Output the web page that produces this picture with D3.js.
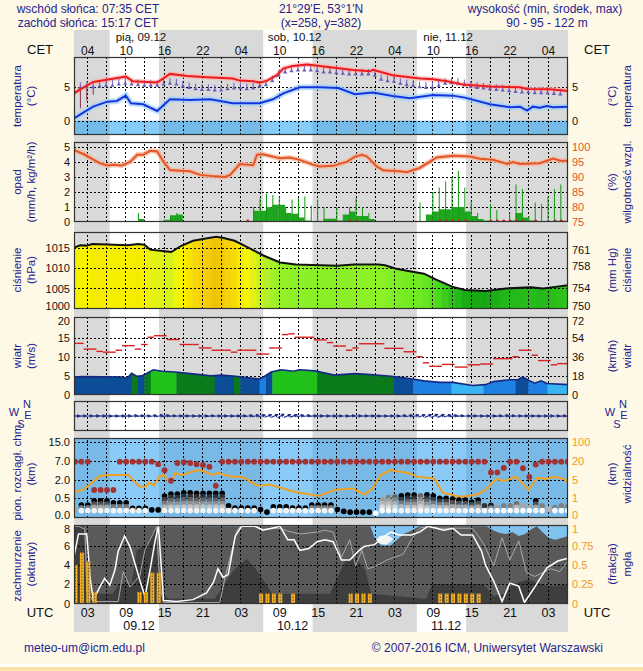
<!DOCTYPE html>
<html><head><meta charset="utf-8">
<script src="https://cdn.jsdelivr.net/npm/d3@7/dist/d3.min.js"></script>
<style>html,body{margin:0;padding:0;background:#fef8e6;}svg{display:block}</style>
</head><body>
<svg id="chart" width="643" height="671"></svg>
<script>
// ================= DATA =================
const tickHours=[3,9,15,21,27,33,39,45,51,57,63,69,75];
const cetLabels=["04","10","16","22","04","10","16","22","04","10","16","22","04"];
const utcLabels=["03","09","15","21","03","09","15","21","03","09","15","21","03"];
const dayNoon=[11,35,59];
const dayLabelsTop=["pią, 09.12","sob, 10.12","nie, 11.12"];
const dayLabelsBottom=["09.12","10.12","11.12"];
const daylight=[[6.58,14.28],[30.58,38.28],[54.58,62.28]];

// temperature (hour, °C)
const tempRed=[[1,4.1],[2.7,5.1],[4,5.8],[6.6,6.2],[9.1,6.6],[10.2,5.9],[14,5.7],[16,7.0],[18.7,6.7],[21.8,6.5],[25.8,6.3],[26.9,6.0],[29,5.9],[30,5.7],[31.2,6.0],[32.7,6.8],[33.7,7.8],[35.2,8.2],[37.4,8.4],[39.4,8.2],[44.6,7.6],[47.3,7.4],[47.7,7.6],[50.8,6.8],[55.1,6.3],[57.1,6.2],[59.3,5.9],[61.8,5.4],[66,5.1],[70.7,5.0],[71.8,4.75],[75.4,4.7],[78.2,4.45]];
const tempBlue=[[1,0.35],[2.7,1.35],[4,2.1],[6.2,2.85],[7.7,2.95],[9.1,3.75],[9.9,2.6],[11.8,2.45],[14,1.45],[16,3.2],[19.1,3.1],[22.3,3.2],[25.8,2.6],[30,2.6],[32.1,3.2],[33.7,4.1],[36.3,5.0],[39.4,5.0],[42.3,4.9],[44.9,3.95],[47.7,4.2],[50.8,3.7],[53.5,3.35],[57.1,3.85],[60.2,3.75],[62.1,3.45],[66,2.45],[69.1,2.0],[70.7,2.1],[71.8,1.5],[72.7,2.1],[73.8,1.95],[74.9,2.2],[75.9,2.0],[78.2,2.1]];
const tempPurple=[[2,5.0],[3,5.1],[4,5.1],[5,5.2],[6,5.3],[7,5.3],[8,5.5],[9,5.6],[10,5.5],[11,5.4],[12,5.3],[13,5.3],[14,5.3],[15,5.5],[16,5.6],[17,5.5],[18,5.2],[19,5.0],[20,4.8],[21,4.7],[22,4.7],[23,4.6],[24,4.6],[25,4.8],[26,4.9],[27,4.9],[28,4.8],[29,4.9],[30,5.2],[31,5.4],[32,6.0],[33,6.8],[34,7.3],[35,7.5],[36,7.6],[37,7.6],[38,7.6],[39,7.5],[40,7.3],[41,7.3],[42,7.2],[43,7.1],[44,7.0],[45,7.0],[46,7.0],[47,7.0],[48,6.8],[49,6.2],[50,6.0],[51,5.9],[52,5.6],[53,5.4],[54,5.3],[55,5.1],[56,5.0],[57,5.0],[58,5.3],[59,5.6],[60,5.7],[61,5.6],[62,5.4],[63,5.2],[64,5.0],[65,4.9],[66,4.8],[67,4.7],[68,4.6],[69,4.5],[70,4.4],[71,4.3],[72,4.3],[73,4.2],[74,4.2],[75,4.2],[76,4.1],[77,4.0]];
const tempPurpleLow=[[2,1.85],[3,3.0],[4,3.9]];

// precipitation (hour, mm/h) and humidity (hour, %)
const precip=[[11,0.2],[14,0.05],[15,0.15],[16,0.45],[17,0.5],[28,0.03],[29,0.75],[30,0.75],[31,0.98],[32,1.15],[33,1.15],[34,0.6],[35,0.55],[36,0.3],[37,0.1],[38,0.05],[40,0.22],[41,0.22],[42,0.1],[43,0.5],[44,0.7],[45,0.4],[46,0.4],[47,0.2],[56,0.5],[57,0.7],[58,0.85],[59,0.85],[60,1.0],[61,1.0],[62,0.7],[63,0.4],[64,0.2],[65,0.1],[66,0.05],[67,0.05],[69,0.1],[70,0.6],[71,0.3],[72,0.1],[73,0.05],[76,0.08],[77,0.08]];
const precipMax=[[11,0.6],[16,0.4],[17,0.6],[29,1.0],[30,1.6],[31,1.9],[32,1.8],[33,1.7],[34,1.0],[35,1.5],[36,1.6],[37,1.7],[38,1.1],[39,1.5],[40,1.0],[42,1.0],[44,1.0],[45,1.6],[46,1.0],[47,0.6],[55,1.3],[57,2.0],[58,2.3],[59,2.7],[60,3.0],[61,3.4],[62,2.3],[63,1.4],[64,0.6],[66,1.2],[67,0.8],[69,0.6],[70,2.5],[71,2.2],[72,0.4],[73,1.3],[74,1.2],[75,1.7],[76,2.2],[77,2.5]];
const snowHours=[28,44,45,58,59,60,61,62,66,67,68,69,70,71,73,76,77];
const humidity=[[1,99],[2.7,97.4],[5,94.6],[6.2,93.8],[7.1,94.1],[8.5,93.8],[9.8,95.1],[10.9,97.4],[11.8,97.4],[12.9,98.7],[14,98.5],[15,95.1],[16,92.3],[17.6,92.1],[19.1,91.9],[20.7,90.7],[23,90.2],[24.6,90.0],[25.4,90.7],[26.9,94.3],[29,93.9],[29.6,97.4],[30.5,97.6],[33.2,96.2],[34.7,96.5],[36.3,95.7],[38.3,94.1],[39.4,93.5],[41.5,93.7],[43.7,95.1],[44.9,96.8],[46,97.4],[46.8,96.8],[48.3,93.5],[49.3,92.2],[51.9,91.9],[53,91.6],[55,93],[57.7,96.5],[60.2,97.1],[62.9,96.8],[64.4,96.1],[66.5,95.7],[68.7,94.3],[69.6,95.0],[70.7,94.3],[73.8,94.6],[75.9,96.1],[77,95.4],[78.2,95.4]];

// pressure (hour, hPa)
const pressure=[[1,1015.2],[2,1015.8],[2.9,1015.7],[3.9,1016.1],[6.2,1016.0],[9.4,1015.8],[11,1016.1],[12,1015.9],[12.9,1014.7],[15.2,1014.3],[16.2,1014.1],[17.7,1015.6],[19.6,1016.9],[21.6,1017.5],[23.2,1017.9],[24.4,1017.6],[26.1,1016.9],[28,1015.4],[30.5,1013.3],[33.2,1011.5],[35.7,1011.0],[39.6,1010.8],[42.1,1010.7],[44.8,1011.0],[48.6,1011.0],[49.6,1010.8],[51.2,1010.0],[53,1009.4],[55.7,1008.7],[57.6,1007.2],[60.2,1005.4],[62.1,1004.6],[65.3,1004.4],[68.5,1005.0],[72.4,1005.3],[74.3,1005.0],[76.2,1005.4],[78.2,1005.8]];
const pressTicks=[1000,1005,1010,1015];
const mmHgTicks=[750,754,758,761];

// wind (hour, m/s), gusts hourly h=1..78, colour class segments, direction hourly
const windSpeed=[[1,4.7],[2.2,4.8],[8.6,4.7],[9.3,4.4],[10,5.7],[10.8,4.9],[11.6,5.0],[13.4,6.6],[14.8,6.2],[16.7,6.0],[19.2,5.6],[22.4,5.0],[24,5.2],[26.3,4.9],[28.9,4.4],[30.1,4.2],[30.8,4.9],[31.8,6.0],[33.4,6.6],[35.3,6.2],[36.3,6.6],[38.6,6.3],[41.7,5.2],[44.9,5.6],[46.8,5.4],[50.6,4.9],[53.1,4.4],[55.7,3.7],[58.2,3.3],[60.2,3.3],[63.3,2.5],[65.3,2.7],[66.6,3.5],[69.1,4.0],[70.4,4.0],[71.1,4.7],[72.1,3.8],[73,3.1],[74,3.7],[74.9,3.0],[78.2,2.7]];
const windGust=[13.5,13.5,12.0,12.0,11.4,11.2,11.2,11.7,12.9,12.9,12.0,13.2,15.1,15.5,15.5,14.5,14.5,13.2,13.2,13.2,12.3,12.3,11.7,11.7,11.7,11.2,11.7,11.7,11.7,10.7,10.7,12.3,12.3,15.8,16.0,15.1,15.1,15.1,14.4,14.4,13.7,12.8,12.8,11.7,12.3,13.4,13.4,13.4,13.4,12.2,12.2,12.2,11.3,11.3,10.0,8.4,7.5,7.5,8.0,8.0,7.3,7.3,7.9,7.9,8.1,8.1,9.5,9.5,9.5,10.0,11.7,11.7,10.4,9.0,9.0,7.9,8.2,8.2];
const windClassSeg=[[1,10,0],[10,11,1],[11,12,0],[12,13,1],[13,17,2],[17,23,1],[23,26,0],[26,27,1],[27,30,0],[30,31,3],[31,32,0],[32,39,2],[39,51,1],[51,54,0],[54,60,3],[60,65,4],[65,70,3],[70,72,0],[72,75,3],[75,78.2,4]];
const windClassColors=["#0c4d98","#0a7a1a","#20c21a","#1f80e4","#3ab4f4"];
const windDir=[270,268,266,268,270,272,270,268,265,262,264,266,262,258,260,263,266,268,270,268,266,264,266,268,270,268,265,262,258,254,250,246,242,246,252,258,262,265,268,270,270,268,266,264,266,268,270,272,270,268,266,262,258,254,250,246,244,248,254,260,264,266,268,270,268,266,264,262,264,266,268,270,272,270,268,266,264,262];

// cloud base / vertical extent (km) hourly h=1..78, visibility (hour, km)
const cbHigh=[6.75,6.75,6.75,1.16,1.16,1.16,1.16,6.75,6.75,6.75,6.75,6.75,6.75,6.1,4.5,1.9,6.4,6.6,6.4,6.1,5.9,5.4,1.5,
6.75,6.75,6.75,6.75,6.75,6.75,6.75,6.75,6.75,6.75,6.75,6.75,6.75,6.75,6.75,6.75,6.75,6.75,6.75,6.75,6.75,
6.75,6.75,6.75,6.75,6.75,6.75,6.75,6.75,6.75,6.75,6.75,6.75,6.75,6.75,6.75,6.75,6.75,6.75,6.75,6.75,6.75,
3.9,3.9,5.1,6.75,6.75,5.0,2.7,6.0,6.75,6.75,6.75,6.75,6.75];
const cbTop=[0.19,0.32,0.32,0.43,0.43,0.43,0.38,0.38,0.38,0.23,0.23,0.23,0.19,0.19,0.68,0.84,0.84,0.94,0.94,0.9,0.9,0.9,0.9,0.9,0.3,0.24,0.24,0.24,0.24,0.2,0.13,0.27,0.27,0.27,0.24,0.24,0.24,0.32,0.32,0.32,0.32,0.2,0.15,0.13,0.13,0.13,0.13,0.1,0.45,0.55,0.6,0.7,0.76,0.76,0.7,0.78,0.7,0.5,0.5,0.48,0.45,0.45,0.4,0.45,0.3,0.31,0.25,0.3,0.3,0.35,0.3,0.25,0.43,0.3,0.2,0.25,0.3,0.28];
const cbDark=[0.35,1,1,1,1,1,1,1,1,1, 1,1,1,1,1,1,1,1,1,1, 1,1,1,1,1,1,1,1,1,1, 1,1,1,1,1,1,1,1,1,1, 1,1,1,1,1,1,1,0,0.4,0.5, 0.6,1,1,1,0.6,1,1,1,1,1, 1,1,1,1,0.8,0.9,0.4,0.5,0.5,0.55, 0.35,0.35,1,0.5,0.3,0.5,0.5,0.5];
const visibility=[[1,2.2],[2.5,2.9],[4,4.5],[5,7.8],[6.5,8.6],[9.6,8.6],[10.1,5.2],[11.2,3.5],[12.2,3.5],[12.7,4.3],[13.5,3.8],[14.3,7.2],[15,8.6],[15.6,4.9],[16.3,4.5],[16.8,10],[17.9,8.6],[19.4,11.2],[20.5,12.6],[21.5,11.2],[22.6,8.6],[23.6,10.4],[24.6,8.6],[25.7,7.2],[26.8,7.2],[27.8,6.0],[28.9,4.2],[30,3.6],[31.5,3.95],[35.4,2.4],[39.3,1.5],[41.8,2.8],[44.5,3.1],[46.4,1.8],[47.6,3.0],[48.9,8.6],[50.5,12.6],[53.4,10],[54.7,7.2],[57.3,5.9],[58.6,2.2],[61.2,1.3],[63.7,1.65],[65,2.5],[67,5.4],[68.3,4.7],[70.1,7.2],[72,2.8],[73.4,6.4],[74.7,5.5],[76.2,7.2],[77.8,5.0],[78.2,4.2]];
const cbTicks=[0,0.5,2,7,15];
const cbTickLabels=["0.0","0.5","2.0","7.0","15.0"];
const visTicks=[0,1,5,20,100];

// cloud cover (hour, oktas), fog fraction (hour, 0-1)
const cloudTotal=[[1,7.4],[1.8,8],[47.3,8],[48,6.8],[49,6.0],[50.5,6.0],[51.5,6.6],[52.5,7.2],[53.5,7.5],[55,8],[65.5,8],[66.5,7.6],[67.5,7.3],[68.5,7.2],[69.5,7.4],[70.5,7.0],[71.5,7.2],[72.5,7.7],[73.3,8],[74.2,7.4],[75.2,6.8],[76.2,6.6],[77.2,6.8],[78.2,7.0]];
const cloudLow=[[1,8],[2.5,8],[3.2,1],[7,1],[8,2],[10,2],[10.8,5.5],[12.5,6.2],[13.8,8],[14.5,1],[16,0.5],[23,0.5],[24.5,2],[26,3.5],[28,4.6],[29.5,3.5],[31,2],[32,1],[41,1],[42,2.5],[43.5,4.5],[45,4.8],[46.5,3.5],[47.5,1],[56,0.5],[57,2.0],[65,2.0],[66.5,0.8],[68.5,1],[69.5,2],[72,2.5],[75,1.8],[78.2,2]];
const cloudWhitePatch=[[48.2,6.6,6.6],[48.8,6.2,7.0],[49.8,6.1,7.1],[50.5,6.4,6.9],[50.9,6.7,6.7]];
const cloudWhiteLine=[[1,4.85],[1.7,7.2],[3,7.2],[3.5,2.8],[4,0.36],[5.06,1.74],[5.8,2.6],[6.6,1.9],[7.4,3.5],[7.9,5.4],[8.9,7.0],[9.75,5.9],[10.5,4.2],[11.3,2.4],[12.1,0.7],[12.9,3.5],[13.7,6.6],[14.2,8],[15,0.3],[17,0.2],[19.6,0.4],[21.7,1.1],[22.8,2.2],[23.5,3.6],[24.3,2.7],[25.1,3.0],[25.6,4.8],[26.2,7.0],[27.2,8],[29.3,8],[30.5,7.6],[31.9,7.8],[33.2,8],[34.4,6.6],[35.4,6.6],[36.3,5.5],[37.7,5.7],[39,6.4],[40.2,6.6],[41.5,6.4],[42.8,4.5],[44.1,4.5],[45.4,5.4],[46.3,5.9],[47.95,6.1],[49.2,6.8],[50.5,7.4],[51.8,7.1],[53.7,7.1],[55,7.4],[56.3,8],[57.6,7.8],[58.8,7.6],[60.2,7.8],[61.5,7.1],[63.3,7.1],[64.7,5.4],[65.3,4.0],[66.6,2.3],[67.9,0.2],[69.1,2.1],[70.5,1.8],[71.4,0.1],[73,1.7],[74.9,3.7],[76.6,4.4],[78.2,4.7]];
const cloudGrayLine=[[1,8],[1.7,8],[2.7,7.7],[3,1.3],[4,0.2],[7.9,0.2],[8.7,3.3],[9.75,1.7],[11.3,2.9],[12.1,5.6],[12.9,6.6],[13.9,8],[14.4,2.0],[14.95,0.1],[23.8,0.1],[24.6,2.7],[25.4,4.8],[26.5,7.6],[27,8],[29.3,8],[30.5,7.7],[33.2,7.8],[34.4,7.5],[36.3,7.2],[39,7.4],[40.2,7.6],[41.5,7.4],[42.8,4.8],[44.1,6.6],[45,3.9],[46,5.5],[46.9,3.6],[47.95,3.8],[49.9,4.5],[52.4,5.1],[53.7,6.6],[55,7.8],[56.3,8],[58,7.8],[61,7.8],[63.3,7.8],[64.7,6.5],[65.3,5.8],[66.6,3.9],[67.9,6.8],[69.1,4.5],[70.5,6.5],[71.7,3.2],[73,2.8],[74.3,3.2],[75.5,3.6],[76.9,3.3],[78.2,4.4]];
const fog=[[1,0.5],[2,0.66],[3,0.54],[4,0.15],[11,0.15],[12,0.15],[13,0.4],[14,0.4],[30,0.13],[31,0.13],[32,0.13],[33,0.13],[35,0.13],[44,0.13],[45,0.13],[46,0.13],[47,0.13],[58,0.13],[59,0.13],[60,0.13],[61,0.13],[62,0.13],[63,0.13],[64,0.13]];

// ================= DRAWING =================
const FONT="'Liberation Sans', Arial, Helvetica, sans-serif";
const NAVY="#24248f";
const svg=d3.select("#chart").attr("font-family",FONT);
svg.append("rect").attr("width",643).attr("height",671).attr("fill","#fef8e6");
const X0=74,X1=568;
const x=d3.scaleLinear().domain([1,78.2]).range([X0,X1]);
const BAND_TOP=30,BAND_BOT=632;
const defs=svg.append("defs");

function interp(pts,h){
  if(h<=pts[0][0]) return pts[0][1];
  for(let i=1;i<pts.length;i++){ if(h<=pts[i][0]){const a=pts[i-1],b=pts[i];return a[1]+(b[1]-a[1])*(h-a[0])/(b[0]-a[0]);} }
  return pts[pts.length-1][1];
}
function txt(g,xx,yy,s,o={}){
  const t=g.append("text").attr("x",xx).attr("y",yy).text(s)
    .attr("font-size",o.size||12).attr("fill",o.fill||NAVY)
    .attr("text-anchor",o.anchor||"start");
  if(o.rot){t.attr("transform",`rotate(${o.rot},${xx},${yy})`).attr("dy","0.35em").attr("text-anchor","middle");}
  return t;
}
function clip(id,top,bot){
  defs.append("clipPath").attr("id",id).append("rect").attr("x",X0).attr("y",top).attr("width",X1-X0).attr("height",bot-top);
  return "url(#"+id+")";
}

// day/night bands
svg.append("rect").attr("x",X0).attr("y",BAND_TOP).attr("width",X1-X0).attr("height",BAND_BOT-BAND_TOP).attr("fill","#d9d9d9");
svg.append("g").selectAll("rect").data(daylight).join("rect")
  .attr("x",d=>x(d[0])).attr("width",d=>x(d[1])-x(d[0])).attr("y",BAND_TOP).attr("height",BAND_BOT-BAND_TOP).attr("fill","#ffffff");

// header texts
const hd=svg.append("g");
txt(hd,88,13,"wschód słońca: 07:35 CET",{anchor:"middle"});
txt(hd,88,27,"zachód słońca: 15:17 CET",{anchor:"middle"});
txt(hd,321,13,"21°29'E, 53°1'N",{anchor:"middle"});
txt(hd,321,27,"(x=258,  y=382)",{anchor:"middle"});
txt(hd,545,13,"wysokość (min, środek, max)",{anchor:"middle"});
txt(hd,547,27,"90 - 95 - 122 m",{anchor:"middle"});
dayNoon.forEach((h,i)=>txt(hd,x(h)+3,40.5,dayLabelsTop[i],{anchor:"middle",fill:"#111",size:11.5}));
tickHours.forEach((h,i)=>txt(hd,x(h)+1,55,cetLabels[i],{anchor:"middle",fill:"#111",size:12}));
txt(hd,40,54,"CET",{anchor:"middle",fill:"#111",size:13});
txt(hd,597,54,"CET",{anchor:"middle",fill:"#111",size:13});

// generic panel helpers
const gridHours=d3.range(3,78.2,3);
function grid(g,top,bot,y,vals){
  g.append("g").attr("transform",`translate(0,${bot})`)
    .call(d3.axisBottom(x).tickValues(gridHours).tickSize(-(bot-top)).tickFormat(""))
    .call(a=>{a.select(".domain").remove();a.selectAll("line").attr("stroke","#000").attr("stroke-dasharray","2,2").attr("shape-rendering","crispEdges");});
  if(y&&vals){
    g.append("g").attr("transform",`translate(${X0},0)`)
      .call(d3.axisLeft(y).tickValues(vals).tickSize(-(X1-X0)).tickFormat(""))
      .call(a=>{a.select(".domain").remove();a.selectAll("line").attr("stroke","#000").attr("stroke-dasharray","2,2").attr("shape-rendering","crispEdges");});
  }
}
function frame(top,bot){
  svg.append("rect").attr("x",X0+0.5).attr("y",top+0.5).attr("width",X1-X0-1).attr("height",bot-top-1)
    .attr("fill","none").attr("stroke","#333").attr("stroke-width",1.2);
}
// nudge: {value: dy} to keep edge labels of neighbouring panels apart
function axisSide(gen,tx,y,vals,fmt,color,nudge){
  svg.append("g").attr("transform",`translate(${tx},0)`)
    .call(gen(y).tickValues(vals).tickSize(0).tickPadding(0).tickFormat(fmt))
    .call(a=>{a.select(".domain").remove();
      a.selectAll("text").attr("font-size",11).attr("font-family",FONT).attr("fill",color||"#111");
      if(nudge) a.selectAll(".tick").each(function(d){ if(nudge[d]!==undefined) d3.select(this).select("text").attr("y",nudge[d]); });
    });
}
function leftAxis(y,vals,fmt,color,nudge){ axisSide(d3.axisLeft,X0-4,y,vals,fmt,color,nudge); }
function rightAxis(y,vals,fmt,color,nudge){ axisSide(d3.axisRight,X1+4,y,vals,fmt,color,nudge); }
function titles(cy,l1,l2,r1,r2){
  const s=11.5;
  txt(svg,17,cy,l1,{rot:-90,size:s}); txt(svg,31,cy,l2,{rot:-90,size:s});
  txt(svg,612,cy,r1,{rot:-90,size:s}); txt(svg,627,cy,r2,{rot:-90,size:s});
}

// ---------- temperature ----------
{
  const top=57,bot=135;
  const y=d3.scaleLinear().domain([-2.14,9.53]).range([bot,top]);
  const g=svg.append("g").attr("clip-path",clip("cT",top,bot));
  g.append("rect").attr("x",X0).attr("y",y(0)).attr("width",X1-X0).attr("height",bot-y(0)).attr("fill","#23a2f2").attr("opacity",0.55);
  grid(g,top,bot,y,[0,5]);
  const ln=d3.line().x(d=>x(d[0])).y(d=>y(d[1]));
  g.append("path").attr("d",ln(tempBlue)).attr("fill","none").attr("stroke","#9fd0fa").attr("stroke-width",6).attr("opacity",0.7);
  g.append("path").attr("d",ln(tempRed)).attr("fill","none").attr("stroke","#ffb0b0").attr("stroke-width",5).attr("opacity",0.7);
  const pc="#6a5fb8";
  g.selectAll(".pl").data(tempPurpleLow).join("line").attr("x1",d=>x(d[0])).attr("x2",d=>x(d[0]))
    .attr("y1",d=>y(interp(tempPurple,d[0]))).attr("y2",d=>y(d[1])).attr("stroke","#8a3050").attr("stroke-width",1);
  g.selectAll(".pv").data(tempPurple).join("line").attr("x1",d=>x(d[0])).attr("x2",d=>x(d[0]))
    .attr("y1",d=>y(d[1])).attr("y2",d=>y(d[1])-5).attr("stroke",pc).attr("stroke-width",1);
  g.selectAll(".pm").data(tempPurple).join("path").attr("transform",d=>`translate(${x(d[0])},${y(d[1])})`)
    .attr("d","M-2.2,1.6L2.2,1.6L0,-1.8Z").attr("fill",pc);
  g.append("path").attr("d",ln(tempBlue)).attr("fill","none").attr("stroke","#1434e0").attr("stroke-width",2);
  g.append("path").attr("d",ln(tempRed)).attr("fill","none").attr("stroke","#ec1c1c").attr("stroke-width",2);
  frame(top,bot);
  leftAxis(y,[0,5],d3.format("d"));
  rightAxis(y,[0,5],d3.format("d"));
  titles(96,"temperatura","(°C)","(°C)","temperatura");
}

// ---------- precipitation / humidity ----------
{
  const top=142,bot=222;
  const y=d3.scaleLinear().domain([0,5.33]).range([bot,top]);
  const yh=d3.scaleLinear().domain([75,101.65]).range([bot,top]);
  const g=svg.append("g").attr("clip-path",clip("cP",top,bot));
  grid(g,top,bot,y,[1,2,3,4,5]);
  g.selectAll(".pb").data(precip).join("rect").attr("x",d=>x(d[0])).attr("width",d=>x(d[0]+1)-x(d[0]))
    .attr("y",d=>y(d[1])).attr("height",d=>bot-y(d[1])).attr("fill","#1ea61e");
  g.selectAll(".pmx").data(precipMax).join("line").attr("x1",d=>x(d[0])+0.5).attr("x2",d=>x(d[0])+0.5)
    .attr("y1",d=>y(d[1])).attr("y2",bot).attr("stroke","#129a12").attr("stroke-width",1);
  g.selectAll(".sn").data(snowHours).join("circle").attr("cx",d=>x(d)+1).attr("cy",bot-1).attr("r",1.6).attr("fill","#d02020");
  const ln=d3.line().x(d=>x(d[0])).y(d=>yh(d[1]));
  g.append("path").attr("d",ln(humidity)).attr("fill","none").attr("stroke","#f6b69a").attr("stroke-width",5).attr("opacity",0.8);
  g.append("path").attr("d",ln(humidity)).attr("fill","none").attr("stroke","#e2562a").attr("stroke-width",2);
  frame(top,bot);
  leftAxis(y,[0,1,2,3,4,5],d3.format("d"));
  rightAxis(yh,[75,80,85,90,95,100],d3.format("d"),"#e2562a");
  titles(182,"opad","(mm/h, kg/m²/h)","(%)","wilgotność wzgl.");
}

// ---------- pressure ----------
{
  const top=232,bot=309;
  const y=d3.scaleLinear().domain([1000,1019.1]).range([308.5,top]);
  const g=svg.append("g").attr("clip-path",clip("cPr",top,bot));
  const area=d3.area().x(d=>x(d[0])).y0(bot).y1(d=>y(d[1]));
  defs.append("clipPath").attr("id","prArea").append("path").attr("d",area(pressure));
  const col=d3.scaleLinear().domain([1004,1005,1007,1009,1011,1013,1014.5,1015.5,1016.5,1017.5,1018])
    .range(["#0e9a0e","#22b81a","#4cd81e","#70ea22","#8cf026","#b4f02a","#e2f214","#f6f600","#f8e400","#f4cc10","#f0c000"]);
  const ga=g.append("g").attr("clip-path","url(#prArea)");
  ga.selectAll("rect").data(d3.range(1,79)).join("rect").attr("x",h=>x(h-0.5)).attr("width",x(2)-x(1)+0.6)
    .attr("y",top).attr("height",bot-top).attr("fill",h=>col(interp(pressure,h)));
  grid(g,top,bot,y,[1005,1010,1015]);
  g.append("path").attr("d",d3.line().x(d=>x(d[0])).y(d=>y(d[1]))(pressure)).attr("fill","none").attr("stroke","#111").attr("stroke-width",2);
  frame(top,bot);
  leftAxis(y,pressTicks,d3.format("d"),null,{1000:-2.5});
  const yMm=d3.scaleLinear().domain([1000/1.33322,1019.1/1.33322]).range([308.5,top]);
  rightAxis(yMm,mmHgTicks,d3.format("d"),null,{750:-2.5});
  titles(270,"ciśnienie","(hPa)","(mm Hg)","ciśnienie");
}

// ---------- wind ----------
{
  const top=317,bot=395;
  const y=d3.scaleLinear().domain([0,20]).range([bot,top+1.5]);
  const g=svg.append("g").attr("clip-path",clip("cW",top,bot));
  grid(g,top,bot,y,[5,10,15]);
  const area=d3.area().x(d=>x(d[0])).y0(bot).y1(d=>y(d[1]));
  defs.append("clipPath").attr("id","wArea").append("path").attr("d",area(windSpeed));
  const ga=g.append("g").attr("clip-path","url(#wArea)");
  ga.selectAll("rect").data(windClassSeg).join("rect").attr("x",d=>x(d[0])).attr("width",d=>x(d[1])-x(d[0])+0.4)
    .attr("y",top).attr("height",bot-top).attr("fill",d=>windClassColors[d[2]]);
  g.append("path").attr("d",d3.line().x(d=>x(d[0])).y(d=>y(d[1]))(windSpeed)).attr("fill","none").attr("stroke","#142a80").attr("stroke-width",1.6);
  g.selectAll(".gu").data(windGust).join("line").attr("x1",(d,i)=>x(i+1)-3.2).attr("x2",(d,i)=>x(i+1)+3.2)
    .attr("y1",d=>y(d)).attr("y2",d=>y(d)).attr("stroke","#d81e1e").attr("stroke-width",1.4);
  frame(top,bot);
  leftAxis(y,[0,5,10,15,20],d3.format("d"),null,{20:2});
  const ykm=d3.scaleLinear().domain([0,72]).range([bot,top+1.5]);
  rightAxis(ykm,[0,18,36,54,72],d3.format("d"),null,{72:2});
  titles(356,"wiatr","(m/s)","(km/h)","wiatr");
}

// ---------- wind direction ----------
{
  const top=401,bot=431,cy=416;
  const g=svg.append("g").attr("clip-path",clip("cD",top,bot));
  grid(g,top,bot,null,null);
  windDir.forEach((d,i)=>{
    const h=i+1, th=(d+180)*Math.PI/180, vx=Math.sin(th), vy=-Math.cos(th);
    const cx=x(h)+2, L=3.6;
    const x2=cx+vx*L, y2=cy+vy*L;
    g.append("line").attr("x1",cx-vx*L).attr("y1",cy-vy*L).attr("x2",x2).attr("y2",y2).attr("stroke","#1c2a88").attr("stroke-width",1.2);
    const ang=Math.atan2(vy,vx)*180/Math.PI;
    g.append("path").attr("transform",`translate(${x2},${y2}) rotate(${ang})`).attr("d","M1,0L-2.5,-2L-2.5,2Z").attr("fill","#1c2a88");
  });
  frame(top,bot);
  const cmp=(cx)=>{
    txt(svg,cx-9,416,"W",{anchor:"middle",size:11});
    txt(svg,cx+4,408,"N",{anchor:"middle",size:11});
    txt(svg,cx+5,419,"E",{anchor:"middle",size:11});
    txt(svg,cx-2,428,"S",{anchor:"middle",size:11});
  };
  cmp(23); cmp(619);
}

// ---------- cloud base & visibility ----------
{
  const top=438,bot=518;
  const rng=[517,498.25,479.5,460.75,442];
  const y=d3.scaleLinear().domain(cbTicks).range(rng);
  const yv=d3.scaleLinear().domain(visTicks).range(rng);
  const g=svg.append("g").attr("clip-path",clip("cB",top,bot));
  g.append("rect").attr("x",X0).attr("y",top).attr("width",X1-X0).attr("height",bot-top).attr("fill","#2a9ef0").attr("opacity",0.55);
  grid(g,top,bot,y,[0.5,2,7,15]);
  g.append("path").attr("d",d3.line().x(d=>x(d[0])).y(d=>yv(d[1]))(visibility)).attr("fill","none").attr("stroke","#f0a020").attr("stroke-width",2);
  cbTop.forEach((t,i)=>{
    const h=i+1, cx=x(h)+1;
    const yt=y(t), yb=y(Math.min(t,0.17));
    const n=Math.max(0,Math.round((yb-yt)/3.4));
    const topCol=d3.interpolateRgb("#ffffff","#000000")(cbDark[i]);
    for(let k=0;k<=n;k++){
      const f=n===0?0:k/n;
      g.append("circle").attr("cx",cx).attr("cy",yt+(yb-yt)*f).attr("r",2.8)
        .attr("fill",d3.interpolateRgb(topCol,"#ffffff")(f*0.95));
    }
  });
  g.selectAll(".rd").data(cbHigh).join("circle").attr("cx",(d,i)=>x(i+1)+1).attr("cy",d=>y(d)).attr("r",2.9).attr("fill","#a33333");
  frame(top,bot);
  leftAxis(y,cbTicks,(d,i)=>cbTickLabels[i],null,{0:-2.5});
  rightAxis(yv,visTicks,d3.format("d"),"#f09a1e",{0:-2.5});
  txt(svg,17,471,"pion. rozciągł. chm.",{rot:-90,size:11.5}); txt(svg,31,474,"(km)",{rot:-90,size:11.5});
  txt(svg,612,474,"(km)",{rot:-90,size:11.5}); txt(svg,627,474,"widzialność",{rot:-90,size:11.5});
}

// ---------- cloud cover & fog ----------
{
  const top=525,bot=604;
  const y=d3.scaleLinear().domain([0,8]).range([603.5,526.3]);
  const yf=d3.scaleLinear().domain([0,1]).range([603.5,526.3]);
  const g=svg.append("g").attr("clip-path",clip("cC",top,bot));
  g.append("rect").attr("x",X0).attr("y",top).attr("width",X1-X0).attr("height",bot-top).attr("fill","#7fc2f0");
  const area=d3.area().x(d=>x(d[0])).y0(bot).y1(d=>y(d[1]));
  g.append("path").attr("d",area(cloudTotal)).attr("fill","#5a5a5a");
  g.append("path").attr("d",area(cloudLow)).attr("fill","#3e3e3e");
  g.append("path").attr("d",d3.area().x(d=>x(d[0])).y0(d=>y(d[1])).y1(d=>y(d[2]))(cloudWhitePatch)).attr("fill","#f4f4f4");
  grid(g,top,bot,y,[2,4,6]);
  const ln=d3.line().x(d=>x(d[0])).y(d=>y(d[1]));
  g.append("path").attr("d",ln(cloudGrayLine)).attr("fill","none").attr("stroke","#a8a8a8").attr("stroke-width",1);
  g.append("path").attr("d",ln(cloudWhiteLine)).attr("fill","none").attr("stroke","#ffffff").attr("stroke-width",1.5);
  g.selectAll(".fg").data(fog).join("rect").attr("x",d=>x(d[0])-0.5).attr("width",4).attr("y",d=>yf(d[1])).attr("height",d=>bot-yf(d[1])).attr("fill","#f4b020");
  g.selectAll(".fgl").data(fog).join("line").attr("x1",d=>x(d[0])+1.5).attr("x2",d=>x(d[0])+1.5).attr("y1",d=>yf(d[1])).attr("y2",bot)
    .attr("stroke","#333").attr("stroke-width",0.8).attr("stroke-dasharray","1.5,1.5");
  frame(top,bot);
  leftAxis(y,[0,2,4,6,8],d3.format("d"),null,{8:2.5});
  rightAxis(yf,[0,0.25,0.5,0.75,1],d=>d===0?"0":d===1?"1":String(d),"#f09a1e",{1:2.5});
  txt(svg,17,566,"zachmurzenie",{rot:-90,size:11.5}); txt(svg,31,564,"(oktanty)",{rot:-90,size:11.5});
  txt(svg,612,564,"(frakcja)",{rot:-90,size:11.5}); txt(svg,627,564,"mgła",{rot:-90,size:11.5});
}

// ---------- bottom axis ----------
{
  const g=svg.append("g");
  tickHours.forEach((h,i)=>txt(g,x(h)+1,617,utcLabels[i],{anchor:"middle",fill:"#111",size:12.5}));
  dayNoon.forEach((h,i)=>txt(g,x(h)+1,630,dayLabelsBottom[i],{anchor:"middle",fill:"#111",size:12.5}));
  txt(g,40,617,"UTC",{anchor:"middle",fill:"#111",size:13});
  txt(g,597,617,"UTC",{anchor:"middle",fill:"#111",size:13});
  txt(g,24,652,"meteo-um@icm.edu.pl",{size:12});
  txt(g,603,652,"© 2007-2016 ICM, Uniwersytet Warszawski",{anchor:"end",size:12});
  g.append("rect").attr("x",0).attr("y",664).attr("width",643).attr("height",3).attr("fill","#ffffff");
  g.append("rect").attr("x",0).attr("y",667).attr("width",643).attr("height",4).attr("fill","#fbe2a6");
}
</script>
</body></html>
